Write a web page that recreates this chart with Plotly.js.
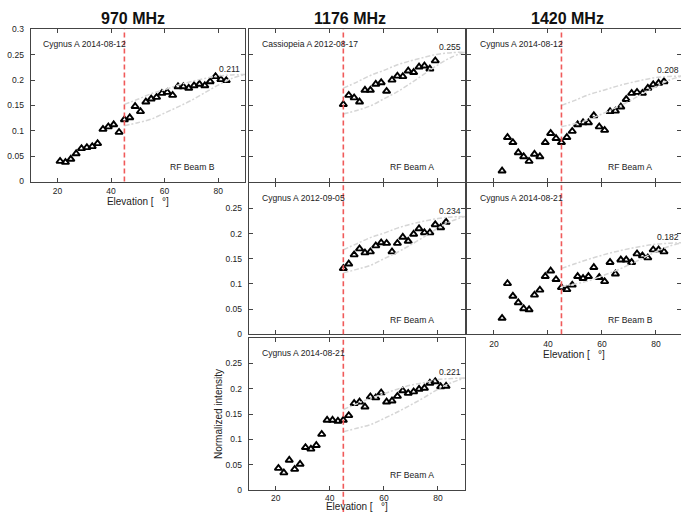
<!DOCTYPE html>
<html>
<head>
<meta charset="utf-8">
<script src="https://cdn.plot.ly/plotly-3.0.1.min.js"></script>
<style>html,body{margin:0;padding:0;background:#fff;}#chart{width:681px;height:512px;}</style>
</head>
<body>
<div id="chart"></div>
<script>
// ---- data ----
const columnTitles = ["970 MHz", "1176 MHz", "1420 MHz"];
const sourceLabels = ["Cygnus A 2014-08-12", "Cassiopeia A 2012-08-17", "Cygnus A 2014-08-12",
                      "Cygnus A 2012-09-05", "Cygnus A 2014-08-21", "Cygnus A 2014-08-21"];
const beamLabels = ["RF Beam B", "RF Beam A", "RF Beam A", "RF Beam A", "RF Beam B", "RF Beam A"];
const peakValues = [0.211, 0.255, 0.208, 0.234, 0.182, 0.221];
const cutoffElevation = 45;

const elevFull21 = [21,23,25,27,29,31,33,35,37,39,41,43,45,47,49,51,53,55,57,59,61,63,65,67,69,71,73,75,77,79,81,83];
const elevFull23 = [23,25,27,29,31,33,35,37,39,41,43,45,47,49,51,53,55,57,59,61,63,65,67,69,71,73,75,77,79,81,83];
const elev45to79 = [45,47,49,51,53,55,57,59,61,63,65,67,69,71,73,75,77,79];
const elev45to83 = [45,47,49,51,53,55,57,59,61,63,65,67,69,71,73,75,77,79,81,83];

const int970CygA0812 = [0.040,0.038,0.044,0.055,0.065,0.067,0.069,0.075,0.103,0.108,0.112,0.097,0.122,0.126,0.148,0.138,0.157,0.163,0.166,0.174,0.176,0.170,0.187,0.187,0.184,0.189,0.192,0.189,0.197,0.207,0.201,0.199];
const int1176CasA0817 = [0.152,0.170,0.165,0.157,0.180,0.180,0.192,0.195,0.178,0.200,0.208,0.207,0.218,0.215,0.226,0.228,0.222,0.238];
const int1420CygA0812 = [0.021,0.087,0.077,0.057,0.049,0.040,0.054,0.049,0.077,0.095,0.085,0.077,0.087,0.099,0.112,0.116,0.116,0.130,0.108,0.101,0.138,0.139,0.147,0.162,0.174,0.176,0.174,0.184,0.191,0.194,0.197];
const int1176CygA0905 = [0.131,0.140,0.158,0.170,0.162,0.164,0.176,0.182,0.181,0.164,0.181,0.193,0.185,0.199,0.210,0.202,0.202,0.218,0.212,0.223];
const int1420CygA0821 = [0.032,0.101,0.076,0.063,0.051,0.049,0.078,0.088,0.115,0.126,0.109,0.093,0.089,0.098,0.115,0.111,0.115,0.133,0.113,0.105,0.143,0.120,0.148,0.148,0.143,0.160,0.156,0.152,0.168,0.168,0.164];
const int1176CygA0821 = [0.043,0.034,0.059,0.041,0.051,0.084,0.081,0.088,0.110,0.138,0.138,0.136,0.138,0.147,0.171,0.174,0.164,0.184,0.182,0.192,0.174,0.176,0.185,0.196,0.191,0.194,0.199,0.201,0.211,0.214,0.204,0.205];

const curveElev = [45,50,55,60,65,70,75,80,85,90];
const upper1 = [0.152,0.162,0.173,0.181,0.190,0.197,0.203,0.208,0.210,0.211];
const lower1 = [0.110,0.116,0.123,0.135,0.147,0.160,0.175,0.190,0.203,0.211];
const upper2 = [0.184,0.196,0.209,0.219,0.230,0.238,0.245,0.251,0.254,0.255];
const lower2 = [0.133,0.140,0.149,0.163,0.177,0.194,0.212,0.230,0.245,0.255];
const upper3 = [0.150,0.160,0.171,0.179,0.187,0.194,0.200,0.205,0.207,0.208];
const lower3 = [0.108,0.114,0.122,0.133,0.145,0.158,0.173,0.187,0.200,0.208];
const upper4 = [0.168,0.180,0.192,0.201,0.211,0.219,0.225,0.230,0.233,0.234];
const lower4 = [0.122,0.129,0.137,0.150,0.163,0.178,0.194,0.211,0.225,0.234];
const upper5 = [0.131,0.140,0.149,0.157,0.164,0.170,0.175,0.179,0.181,0.182];
const lower5 = [0.095,0.100,0.106,0.116,0.126,0.138,0.151,0.164,0.175,0.182];
const upper6 = [0.159,0.170,0.181,0.190,0.199,0.207,0.212,0.218,0.220,0.221];
const lower6 = [0.115,0.122,0.129,0.141,0.154,0.168,0.183,0.199,0.212,0.221];

const xTickVals = [20, 40, 60, 80];
const xTickText = ["20", "40", "60", "80"];
const yTickValsFull = [0, 0.05, 0.1, 0.15, 0.2, 0.25, 0.3];
const yTickTextFull = ["0", "0.05", "0.1", "0.15", "0.2", "0.25", "0.3"];
const yTickValsShort = [0, 0.05, 0.1, 0.15, 0.2, 0.25];
const yTickTextShort = ["0", "0.05", "0.1", "0.15", "0.2", "0.25"];

const xTitle = "Elevation [   °]";
const yTitle = "Normalized intensity";

// ---- layout geometry ----
const W = 681, H = 512;
const cols = [[30.6, 245], [248.7, 465], [467, 681]];
const rows = [[29.3, 181.5], [183.3, 334.3], [338, 490]];
const xRanges = [[10, 90], [10, 90], [10, 89.3]];

const panels = [
  {col:0,row:0,x:elevFull21,y:int970CygA0812,up:upper1,lo:lower1,showX:true,showY:'full',xt:true,yt:false},
  {col:1,row:0,x:elev45to79,y:int1176CasA0817,up:upper2,lo:lower2,showX:false,showY:null,xt:false,yt:false},
  {col:2,row:0,x:elevFull23,y:int1420CygA0812,up:upper3,lo:lower3,showX:false,showY:null,xt:false,yt:false},
  {col:1,row:1,x:elev45to83,y:int1176CygA0905,up:upper4,lo:lower4,showX:false,showY:'short',xt:false,yt:false},
  {col:2,row:1,x:elevFull23,y:int1420CygA0821,up:upper5,lo:lower5,showX:true,showY:null,xt:true,yt:false},
  {col:1,row:2,x:elevFull21,y:int1176CygA0821,up:upper6,lo:lower6,showX:true,showY:'short',xt:true,yt:true}
];

const FONT = "Liberation Sans, Arial, Helvetica, sans-serif";
const frameColor = "#444";
const traces = [];
const layout = {
  width: W, height: H,
  margin: {l:0, r:0, t:0, b:0},
  paper_bgcolor: "#fff", plot_bgcolor: "#fff",
  showlegend: false,
  font: {family: FONT, size: 8, color: "#222"},
  annotations: [], shapes: []
};

panels.forEach((p, i) => {
  const n = i + 1;
  const xa = n === 1 ? "x" : "x" + n;
  const ya = n === 1 ? "y" : "y" + n;
  const xk = n === 1 ? "xaxis" : "xaxis" + n;
  const yk = n === 1 ? "yaxis" : "yaxis" + n;
  const c = cols[p.col], r = rows[p.row];
  layout[xk] = {
    domain: [c[0] / W, Math.min(1, c[1] / W)],
    anchor: ya, range: xRanges[p.col],
    showline: true, mirror: "ticks", linecolor: frameColor, linewidth: 1,
    ticks: "inside", ticklen: 4, tickcolor: frameColor, tickwidth: 1,
    tickvals: xTickVals, ticktext: xTickText, showticklabels: p.showX,
    ticklabelstandoff: (i === 5 ? 0 : 1),
    tickfont: {size: 8.5, color: "#222"},
    showgrid: false, zeroline: false, fixedrange: true
  };
  if (p.xt) layout[xk].title = {text: xTitle, font: {size: 10, color: "#222"}, standoff: 0};
  const yvals = p.showY === 'full' ? yTickValsFull : yTickValsShort;
  const ytext = p.showY === 'full' ? yTickTextFull : yTickTextShort;
  layout[yk] = {
    domain: [1 - r[1] / H, 1 - r[0] / H],
    anchor: xa, range: [0, 0.3],
    showline: true, mirror: "ticks", linecolor: frameColor, linewidth: 1,
    ticks: "inside", ticklen: 4, tickcolor: frameColor, tickwidth: 1,
    tickvals: yvals, ticktext: ytext, showticklabels: p.showY !== null,
    ticklabelstandoff: 4,
    tickfont: {size: 8.5, color: "#222"},
    showgrid: false, zeroline: false, fixedrange: true
  };
  if (p.yt) layout[yk].title = {text: yTitle, font: {size: 10, color: "#222"}, standoff: 0};
  // markers
  traces.push({
    type: "scatter", mode: "markers", x: p.x, y: p.y, xaxis: xa, yaxis: ya,
    marker: {symbol: "triangle-up-open", size: 6.5, color: "#000", line: {width: 1.9, color: "#000"}},
    hoverinfo: "skip", cliponaxis: false
  });
  // envelope curves
  [p.up, p.lo].forEach(cv => traces.push({
    type: "scatter", mode: "lines", x: curveElev, y: cv, xaxis: xa, yaxis: ya,
    line: {color: "#d6d6d6", width: 1.5, dash: "5px,2px,2px,2px", shape: "spline"},
    hoverinfo: "skip"
  }));
  // cutoff line
  layout.shapes.push({
    type: "line", xref: xa, yref: ya + " domain",
    x0: cutoffElevation, x1: cutoffElevation, y0: (i === 5 ? -0.15 : 0), y1: 1,
    line: {color: "#f05a5a", width: 1.6, dash: "5px,3px"}, layer: "above"
  });
  // annotations
  layout.annotations.push({
    xref: xa, yref: ya, x: 14, y: 0.271, xanchor: "left", yanchor: "middle",
    text: sourceLabels[i], showarrow: false, font: {size: 8.6, color: "#222"}
  });
  layout.annotations.push({
    xref: xa, yref: ya, x: 70.5, y: 0.029, xanchor: "center", yanchor: "middle",
    text: beamLabels[i], showarrow: false, font: {size: 8.6, color: "#222"}
  });
  layout.annotations.push({
    xref: xa, yref: ya, x: 84.3, y: peakValues[i] + 0.011, xanchor: "center", yanchor: "middle",
    text: peakValues[i].toFixed(3), showarrow: false, font: {size: 8.6, color: "#222"}
  });
});

// column titles
const colTitleX = [132.5, 350, 567.5];
columnTitles.forEach((t, k) => {
  layout.annotations.push({
    xref: "paper", yref: "paper", x: colTitleX[k] / W, y: 1 - 18 / H,
    xanchor: "center", yanchor: "middle", text: "<b>" + t + "</b>", showarrow: false,
    font: {size: 16, color: "#111", family: FONT}
  });
});

Plotly.newPlot("chart", traces, layout, {staticPlot: true, displayModeBar: false});
</script>
</body>
</html>
